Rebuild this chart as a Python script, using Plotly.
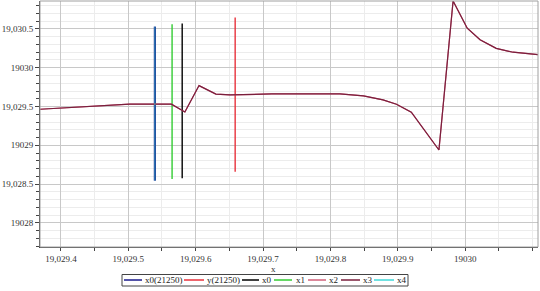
import plotly.graph_objects as go

# vertical marker lines (x position, y bottom, y top)
vx_x0_21250 = [19029.5395, 19029.5395]
vy_x0_21250 = [19028.545, 19030.53]
vx_y_21250 = [19029.6586, 19029.6586]
vy_y_21250 = [19028.66, 19030.646]
vx_x0 = [19029.58, 19029.58]
vy_x0 = [19028.576, 19030.57]
vx_x1 = [19029.565, 19029.565]
vy_x1 = [19028.567, 19030.56]
vx_x4 = [19029.5395, 19029.5395]
vy_x4 = [19028.545, 19030.53]

# curve
curve_x = [19029.369, 19029.502, 19029.564, 19029.584, 19029.605, 19029.630, 19029.651,
           19029.713, 19029.814, 19029.849, 19029.878, 19029.898, 19029.920, 19029.961,
           19029.982, 19030.003, 19030.022, 19030.046, 19030.071, 19030.108]
curve_y = [19029.465, 19029.530, 19029.530, 19029.43, 19029.77, 19029.66, 19029.65,
           19029.662, 19029.662, 19029.637, 19029.585, 19029.53, 19029.427, 19028.94,
           19030.86, 19030.51, 19030.36, 19030.25, 19030.20, 19030.17]

x_tickvals = [19029.4, 19029.5, 19029.6, 19029.7, 19029.8, 19029.9, 19030.0]
x_ticktext = ["19,029.4", "19,029.5", "19,029.6", "19,029.7", "19,029.8", "19,029.9", "19030"]
y_tickvals = [19028.0, 19028.5, 19029.0, 19029.5, 19030.0, 19030.5]
y_ticktext = ["19028", "19,028.5", "19029", "19,029.5", "19030", "19,030.5"]

legend_names = ["x0(21250)", "y(21250)", "x0", "x1", "x2", "x3", "x4"]
legend_colors = ["#1a1a8c", "#e8323c", "#000000", "#33cc33", "#d0607a", "#7a1f3d", "#40d8d8"]

W, H = 540, 291
ML, MR, MT, MB = 40, 2, 1, 44
PW, PH = W - ML - MR, H - MT - MB

fig = go.Figure()
fig.add_trace(go.Scatter(x=vx_x0_21250, y=vy_x0_21250, mode="lines", name=legend_names[0],
                         line=dict(color=legend_colors[0], width=2.2)))
fig.add_trace(go.Scatter(x=vx_y_21250, y=vy_y_21250, mode="lines", name=legend_names[1],
                         line=dict(color=legend_colors[1], width=1.4)))
fig.add_trace(go.Scatter(x=vx_x0, y=vy_x0, mode="lines", name=legend_names[2],
                         line=dict(color=legend_colors[2], width=1.4)))
fig.add_trace(go.Scatter(x=vx_x1, y=vy_x1, mode="lines", name=legend_names[3],
                         line=dict(color=legend_colors[3], width=1.4)))
fig.add_trace(go.Scatter(x=curve_x, y=curve_y, mode="lines", name=legend_names[4],
                         line=dict(color=legend_colors[4], width=1.2)))
fig.add_trace(go.Scatter(x=curve_x, y=curve_y, mode="lines", name=legend_names[5],
                         line=dict(color=legend_colors[5], width=1.2)))
fig.add_trace(go.Scatter(x=vx_x4, y=vy_x4, mode="lines", name=legend_names[6],
                         line=dict(color=legend_colors[6], width=1), opacity=0.75))

font_family = "Liberation Serif, serif"
fig.update_layout(
    width=W, height=H,
    margin=dict(l=ML, r=MR, t=MT, b=MB, autoexpand=False),
    paper_bgcolor="white", plot_bgcolor="white",
    font=dict(family=font_family, size=10, color="#333333"),
    showlegend=False,
)
fig.update_xaxes(
    range=[19029.369, 19030.108], tickvals=x_tickvals, ticktext=x_ticktext,
    showgrid=True, gridcolor="#c8c8c8", gridwidth=1,
    minor=dict(dtick=0.05, tick0=19029.4, showgrid=True, gridcolor="#ececec", ticks="outside", ticklen=3, tickcolor="#444444"),
    ticks="outside", ticklen=3, tickcolor="#444444",
    showline=True, linecolor="#444444", linewidth=1, mirror=False,
    zeroline=False, automargin=False,
    title=dict(text="", font=dict(size=10, family=font_family)),
    tickfont=dict(size=9, family=font_family, color="#333333"),
)
fig.update_yaxes(
    range=[19027.69, 19030.86], tickvals=y_tickvals, ticktext=y_ticktext,
    showgrid=True, gridcolor="#c8c8c8", gridwidth=1,
    minor=dict(dtick=0.1, tick0=19028.0, showgrid=True, gridcolor="#ececec", ticks="outside", ticklen=3, tickcolor="#444444"),
    ticks="outside", ticklen=4, tickcolor="#444444",
    showline=True, linecolor="#444444", linewidth=1, mirror=False,
    zeroline=False, automargin=False, tickfont=dict(size=9, family=font_family, color="#333333"),
)
fig.add_shape(type="rect", xref="paper", yref="paper", x0=0, y0=0, x1=1, y1=1,
              line=dict(color="#a0a0a0", width=1), layer="above")

# custom compact legend (positions in pixels converted to paper coords)
def px(x):
    return (x - ML) / PW

def py(y):
    return (H - MB - y) / PH

# axis title
fig.add_annotation(xref="paper", yref="paper", x=px(273), y=py(269), text="x", showarrow=False,
                   xanchor="center", yanchor="middle", font=dict(size=9, family=font_family, color="#333333"))

fig.add_shape(type="rect", xref="paper", yref="paper", x0=px(122), x1=px(408), y0=py(286), y1=py(274.5),
              line=dict(color="#444444", width=1), fillcolor="white")
line_starts = [123, 183, 241, 273, 307, 340, 373]
line_ends = [143, 205, 260, 293, 327, 361, 395]
text_starts = [145, 207, 262, 296, 329, 363, 397]
yc = py(280)
for name, col, ls, le, ts in zip(legend_names, legend_colors, line_starts, line_ends, text_starts):
    fig.add_shape(type="line", xref="paper", yref="paper", x0=px(ls + 1), x1=px(le - 1), y0=yc, y1=yc,
                  line=dict(color=col, width=1.5))
    fig.add_annotation(xref="paper", yref="paper", x=px(ts), y=yc, text=name, showarrow=False,
                       xanchor="left", yanchor="middle", xshift=-2,
                       font=dict(size=9, family=font_family, color="#222222"))

fig.write_html("out.html")
